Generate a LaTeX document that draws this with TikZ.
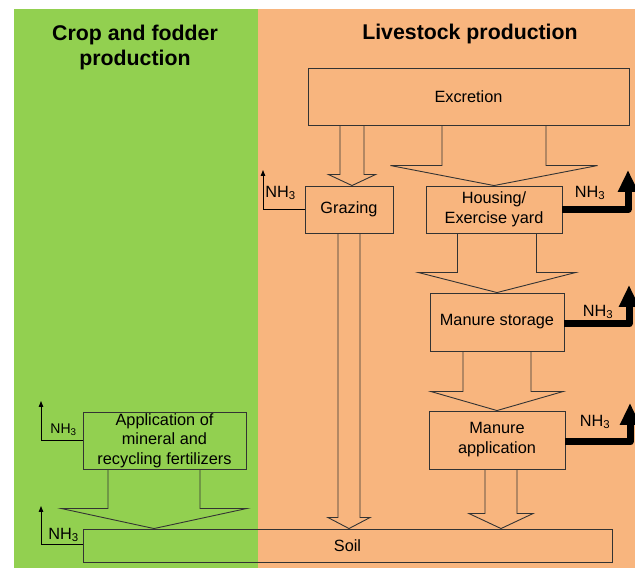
\documentclass[tikz,border=0pt]{standalone}
\usepackage{fontspec}
\setmainfont{Liberation Sans}
\usetikzlibrary{arrows.meta,calc}
\definecolor{cropgreen}{HTML}{92D050}
\definecolor{stockorange}{HTML}{F8B57E}
\definecolor{linegray}{HTML}{333333}

\begin{document}
\begin{tikzpicture}[x=1pt,y=1pt,
    box/.style={draw=linegray,line width=0.9pt,inner sep=0pt,align=center,
      font=\fontsize{16.3}{20}\selectfont},
    flow/.style={draw=linegray,line width=0.9pt},
    loss/.style={draw=black,line width=0.9pt,-{Triangle[length=6pt,width=4.5pt]}},
    bigloss/.style={draw=black,line width=7pt,line join=round,
      -{Triangle[length=22pt,width=19pt]}},
    nh/.style={font=\fontsize{16.3}{20}\selectfont,inner sep=0pt},
    heading/.style={font=\fontsize{21.3}{25}\selectfont\bfseries,align=center}]

        % 背景
        \useasboundingbox (0,0) rectangle (635,568);
        \fill[cropgreen] (14,0) rectangle (258,559);
        \fill[stockorange] (258,0) rectangle (635,559);

        % 标题
        \node[heading] (croptitle) at (135,521) {Crop and fodder\\production};
        \node[heading] (stocktitle) at (470,534) {Livestock production};

        % 方框
        \node[box,minimum width=321pt,minimum height=57pt] (excr) at (468.5,471.5) {Excretion};
        \node[box,minimum width=88pt,minimum height=47pt] (grazing) at (349,358.5) {Grazing};
        \node[box,minimum width=136pt,minimum height=47pt] (housing) at (494,358.5) {Housing/\\Exercise yard};
        \node[box,minimum width=134pt,minimum height=58pt] (storage) at (497,246) {Manure storage};
        \node[box,minimum width=136pt,minimum height=58pt] (manapp) at (497,128) {Manure\\application};
        \node[box,minimum width=163pt,minimum height=57pt,
          font=\fontsize{16.3}{19.5}\selectfont] (fert) at (164.5,127.5) {Application of\\mineral and\\recycling fertilizers};
        \node[box,minimum width=529pt,minimum height=33pt] (soil) at (347.5,22.5) {Soil};

        % 空心箭头
        \foreach \a/\b/\dx/\sw/\hw/\hl in {excr/grazing/3/12/23.5/11, excr/housing/0/52/103.5/20,
            grazing/soil/1.5/11/21/11, housing/storage/0/39.5/78.5/20, storage/manapp/0/34/66/19,
            manapp/soil/153.5/16/32/15, fert/soil/-193.5/46/92.5/20}
        {
          \path ([xshift=\dx pt]\b.north) coordinate (t) (t |- \a.south) coordinate (s);
          \draw[flow] ($(s)+(-\sw,0)$) -- ($(t)+(-\sw,\hl)$) -- ($(t)+(-\hw,\hl)$) -- (t)
            -- ($(t)+(\hw,\hl)$) -- ($(t)+(\sw,\hl)$) -- ($(s)+(\sw,0)$);
        }

        % 细的NH3箭头
        \coordinate (grazup) at (263,398);
        \coordinate (fertup) at (41,167);
        \coordinate (soilup) at (41,62);
        \draw[loss] (grazing.west) -| (grazup);
        \draw[loss] (fert.west) -| (fertup);
        \draw[loss] ([yshift=1.5pt]soil.west) -| (soilup);
        \node[nh] (nhgraz) at (280.5,375) {NH\textsubscript{3}};
        \node[nh,font=\fontsize{14}{17}\selectfont] (nhfert) at (63.5,138) {NH\textsubscript{3}};
        \node[nh] (nhsoil) at (63.5,33) {NH\textsubscript{3}};

        % 粗的NH3箭头
        \coordinate (housup) at (628,398);
        \coordinate (storup) at (629,283);
        \coordinate (appup) at (630,165);
        \draw[bigloss] (housing.east) -| (housup);
        \draw[bigloss] ([yshift=-2pt]storage.east) -| (storup);
        \draw[bigloss] ([yshift=-2pt]manapp.east) -| (appup);
        \node[nh] (nhhous) at (590,375) {NH\textsubscript{3}};
        \node[nh] (nhstor) at (598,256) {NH\textsubscript{3}};
        \node[nh] (nhapp) at (595,146) {NH\textsubscript{3}};

    \end{tikzpicture}
\end{document}
